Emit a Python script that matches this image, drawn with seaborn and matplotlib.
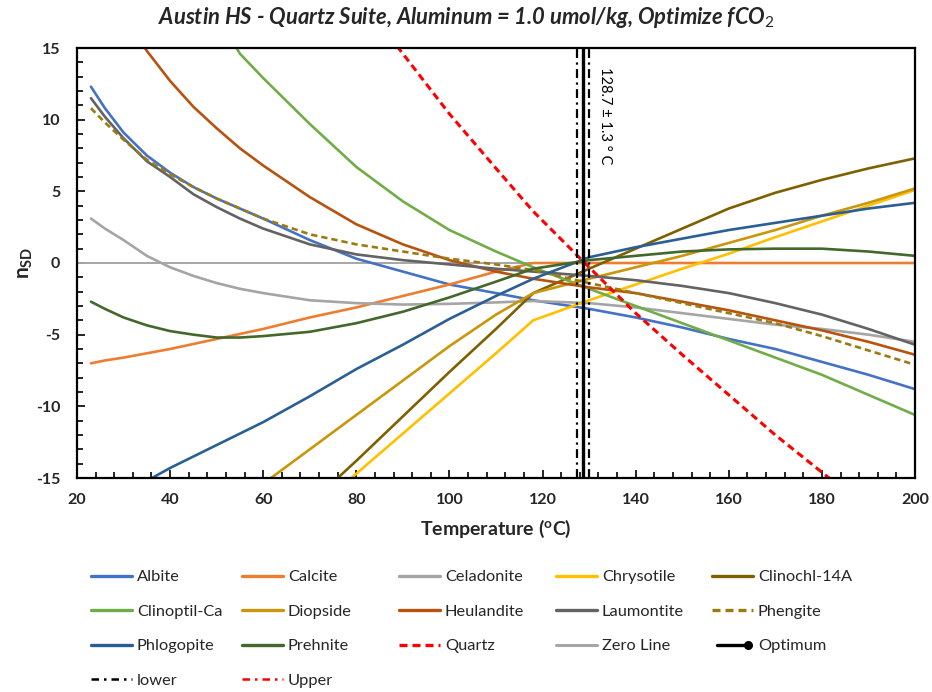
import numpy as np
import matplotlib
matplotlib.use("Agg")
import matplotlib.pyplot as plt
from matplotlib.lines import Line2D
from matplotlib.legend_handler import HandlerLine2D
from matplotlib.ticker import MultipleLocator
import seaborn as sns

# ---- data -------------------------------------------------------------
temps = [23, 26, 30, 35, 40, 45, 50, 55, 60, 70, 80, 90, 100, 110, 118,
         130, 140, 150, 160, 170, 180, 190, 200]
nan = np.nan

albite = [12.3, 10.8, 9.1, 7.5, 6.3, 5.3, 4.5, 3.8, 3.1, 1.6, 0.3, -0.6, -1.5, -2.1, -2.6,
          -3.2, -3.8, -4.5, -5.3, -6.0, -6.9, -7.8, -8.8]
calcite = [-7.0, -6.8, -6.6, -6.3, -6.0, -5.65, -5.3, -4.95, -4.6, -3.8, -3.1, -2.3, -1.5, -0.6, 0.0,
           0.0, 0.0, 0.0, 0.0, 0.0, 0.0, 0.0, 0.0]
celadonite = [3.1, 2.4, 1.6, 0.5, -0.3, -0.9, -1.4, -1.8, -2.1, -2.6, -2.8, -2.9, -2.85, -2.75, -2.65,
              -2.8, -3.1, -3.5, -3.9, -4.3, -4.6, -5.0, -5.5]
chrysotile = [nan, nan, nan, nan, nan, nan, nan, nan, nan, -17.5, -14.7, -11.9, -9.1, -6.3, -4.0,
              -2.6, -1.5, -0.4, 0.65, 1.8, 2.9, 4.0, 5.1]
clinochl = [nan, nan, nan, nan, nan, nan, nan, nan, nan, -16.8, -13.8, -10.7, -7.6, -4.6, -2.1,
            -0.4, 1.0, 2.4, 3.8, 4.9, 5.8, 6.6, 7.3]
clinoptil = [nan, nan, nan, nan, nan, nan, 17.3, 14.6, 12.9, 9.7, 6.7, 4.3, 2.3, 0.8, -0.3,
             -1.8, -3.0, -4.2, -5.4, -6.6, -7.8, -9.2, -10.6]
diopside = [nan, nan, nan, nan, nan, nan, nan, nan, -15.4, -13.0, -10.6, -8.2, -5.8, -3.6, -2.1,
            -1.1, -0.3, 0.5, 1.4, 2.3, 3.3, 4.2, 5.2]
heulandite = [nan, nan, 17.2, 14.8, 12.7, 10.9, 9.4, 8.0, 6.8, 4.6, 2.7, 1.3, 0.2, -0.6, -1.1,
              -1.7, -2.1, -2.7, -3.3, -4.0, -4.7, -5.5, -6.4]
laumontite = [11.5, 10.2, 8.7, 7.1, 6.0, 4.8, 3.9, 3.1, 2.4, 1.3, 0.6, 0.2, -0.1, -0.4, -0.6,
              -0.9, -1.2, -1.6, -2.1, -2.8, -3.6, -4.6, -5.7]
phengite = [10.8, 9.8, 8.6, 7.2, 6.2, 5.3, 4.5, 3.8, 3.1, 2.0, 1.3, 0.8, 0.3, -0.1, -0.5,
            -1.4, -2.1, -2.8, -3.5, -4.2, -5.1, -6.1, -7.1]
phlogopite = [nan, nan, -16.0, -15.2, -14.3, -13.5, -12.7, -11.9, -11.1, -9.3, -7.4, -5.7, -3.9, -2.3, -1.1,
              0.4, 1.1, 1.7, 2.3, 2.8, 3.3, 3.8, 4.2]
prehnite = [-2.7, -3.2, -3.8, -4.35, -4.75, -5.0, -5.2, -5.2, -5.1, -4.8, -4.2, -3.4, -2.4, -1.3, -0.4,
            0.2, 0.5, 0.8, 0.95, 1.0, 1.0, 0.8, 0.5]
quartz = [nan, nan, nan, nan, nan, nan, nan, nan, nan, nan, 18.8, 14.6, 10.4, 6.6, 3.6,
          -0.3, -3.5, -6.4, -9.2, -12.0, -14.6, -17.2, nan]

zero_x = [20, 200]
zero_y = [0, 0]

t_opt = 128.7
t_err = 1.3
y_span = [-15, 15]

x_ticks = [20, 40, 60, 80, 100, 120, 140, 160, 180, 200]
y_ticks = [-15, -10, -5, 0, 5, 10, 15]

# ---- style ------------------------------------------------------------
sns.set_theme(style="ticks")
plt.rcParams["font.family"] = ["Lato", "DejaVu Sans"]
plt.rcParams["axes.unicode_minus"] = False
plt.rcParams["mathtext.fontset"] = "custom"
plt.rcParams["mathtext.bf"] = "Lato:bold"
plt.rcParams["mathtext.rm"] = "Lato"
plt.rcParams["mathtext.it"] = "Lato:italic:bold"

fig = plt.figure(figsize=(9.32, 6.92), dpi=100)
W, H = 932, 692
ax = fig.add_axes([77 / W, 1 - 478 / H, (915 - 77) / W, (478 - 48) / H])

series = [
    ("Albite", albite, "#4472C4", "-"),
    ("Calcite", calcite, "#ED7D31", "-"),
    ("Celadonite", celadonite, "#A5A5A5", "-"),
    ("Chrysotile", chrysotile, "#FFC000", "-"),
    ("Clinochl-14A", clinochl, "#7F6000", "-"),
    ("Clinoptil-Ca", clinoptil, "#70AD47", "-"),
    ("Diopside", diopside, "#C9960C", "-"),
    ("Heulandite", heulandite, "#B8520F", "-"),
    ("Laumontite", laumontite, "#636363", "-"),
    ("Phengite", phengite, "#9C7A12", (0, (2.4, 1.5))),
    ("Phlogopite", phlogopite, "#2A5F96", "-"),
    ("Prehnite", prehnite, "#43682B", "-"),
    ("Quartz", quartz, "#FF0000", (0, (2.4, 1.5))),
]

handles = []
labels = []

# zero reference line sits underneath the mineral curves
sns.lineplot(x=zero_x, y=zero_y, ax=ax, color="#A6A6A6", lw=1.4,
             estimator=None, zorder=1)
zero_handle = Line2D([], [], color="#A6A6A6", lw=2.2)

for name, vals, col, ls in series:
    lw = 2.2 if name == "Quartz" else 1.9
    sns.lineplot(x=temps, y=vals, ax=ax, color=col, lw=lw, linestyle=ls,
                 estimator=None, zorder=2)
    handles.append(Line2D([], [], color=col, lw=2.4, linestyle=ls))
    labels.append(name)

# optimum temperature and its bounds
sns.lineplot(x=[t_opt, t_opt], y=y_span, ax=ax, color="black", lw=2.4,
             estimator=None, sort=False, zorder=4)
for t in (t_opt - t_err, t_opt + t_err):
    sns.lineplot(x=[t, t], y=y_span, ax=ax, color="black", lw=1.6,
                 linestyle=(0, (4, 2, 1, 2)), estimator=None, sort=False,
                 zorder=4)

ax.text(t_opt + 4.8, 13.7, f"{t_opt} \u00b1 {t_err} \u00b0 C",
        rotation=270, ha="center", va="top", fontsize=10.5, color="black")

# ---- axes -------------------------------------------------------------
ax.set_xlim(20, 200)
ax.set_ylim(-15, 15)
ax.set_xticks(x_ticks)
ax.set_xticklabels([str(v) for v in x_ticks], fontweight="bold",
                   color="#262626")
ax.set_yticks(y_ticks)
ax.set_yticklabels([str(v) for v in y_ticks], fontweight="bold",
                   color="#262626")
ax.xaxis.set_minor_locator(MultipleLocator(4))
ax.yaxis.set_minor_locator(MultipleLocator(1))
ax.tick_params(which="both", direction="in", color="black", width=1.2,
               top=False, right=False)
ax.tick_params(which="major", length=6)
ax.tick_params(which="minor", length=4)
ax.tick_params(axis="x", pad=11, labelsize=11.5)
ax.tick_params(axis="y", pad=12, labelsize=11.5)
for sp in ax.spines.values():
    sp.set_visible(True)
    sp.set_color("black")
    sp.set_linewidth(1.6)

ax.set_xlabel(r"$\mathbf{Temperature\ (^{o}C)}$", fontsize=14, labelpad=8)
ax.set_ylabel(r"$\mathbf{n_{SD}}$", fontsize=15, labelpad=1)

fig.text(0.5, 1 - 18 / H,
         "Austin HS - Quartz Suite, Aluminum = 1.0 umol/kg, Optimize fCO$_\\mathit{2}$",
         ha="center", va="center", fontsize=15.8, fontweight="bold",
         fontstyle="italic")

# ---- legend -----------------------------------------------------------
class EndMarkerHandler(HandlerLine2D):
    def create_artists(self, *args, **kwargs):
        arts = super().create_artists(*args, **kwargs)
        ln = arts[0]
        ln.set_markevery([len(ln.get_xdata()) - 1])
        return arts


opt_handle = Line2D([], [], color="black", lw=2.4, marker="o", markersize=5.5)
lower_handle = Line2D([], [], color="black", lw=1.8, linestyle=(0, (3, 2, 1, 2)))
upper_handle = Line2D([], [], color="#FF0000", lw=1.8, linestyle=(0, (3, 2, 1, 2)))

handles += [zero_handle, opt_handle, lower_handle, upper_handle]
labels += ["Zero Line", "Optimum", "lower", "Upper"]

col_x = [91, 242, 399, 556, 712]
for c in range(5):
    idx = list(range(c, len(handles), 5))
    fig.legend([handles[i] for i in idx], [labels[i] for i in idx],
               loc="upper left", bbox_to_anchor=(col_x[c] / W, 1 - 570 / H),
               frameon=False, fontsize=11.8, handlelength=2.5,
               handletextpad=0.3, labelspacing=1.22, borderpad=0,
               borderaxespad=0,
               handler_map={opt_handle: EndMarkerHandler(numpoints=2)})

fig.savefig("out.png", dpi=100)
